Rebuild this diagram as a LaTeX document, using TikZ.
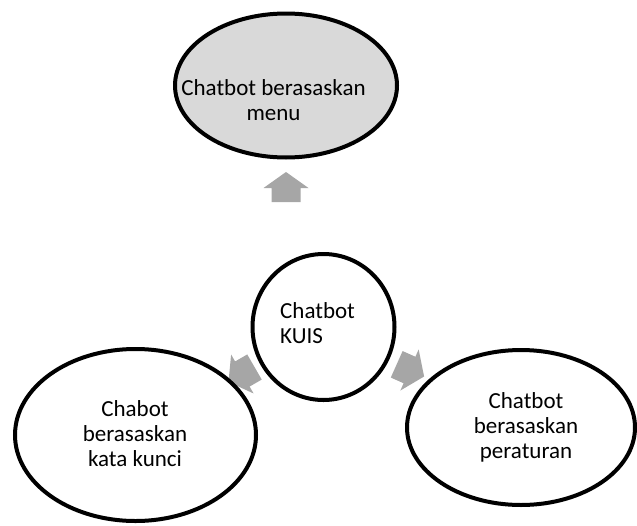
\documentclass[tikz,border=0pt]{standalone}
\usepackage{fontspec}
\setmainfont{Carlito}
\usetikzlibrary{shapes.geometric}
\definecolor{menugray}{HTML}{D9D9D9}
\definecolor{arrowgray}{HTML}{A6A6A6}

\begin{document}
\begin{tikzpicture}[
  x=1pt, y=-1pt,
  bubble/.style={draw, ellipse, line width=4pt, fill=white, inner sep=0pt},
  caption/.style={inner sep=0pt, align=center, font=\fontsize{23}{25}\selectfont},
  blockarr/.pic={\fill[arrowgray] (-15,-14.5) -- (-1,-14.5) -- (-1,-22.5) -- (15,0) -- (-1,22.5) -- (-1,14.5) -- (-15,14.5) -- cycle;}
]
  \useasboundingbox (0,0) rectangle (637,525);
  % arrows sit behind the bubbles
  \pic[rotate=90] (uparr) at (286,187) {blockarr};
  \pic[rotate=210] (leftarr) at (241.5,374.5) {blockarr};
  \pic[rotate=-24] (rightarr) at (410.4,370.4) {blockarr};

  \node[bubble, fill=menugray, minimum width=222pt, minimum height=144pt] (menu) at (286,85.5) {};
  \node[bubble, minimum width=142pt, minimum height=146pt] (kuis) at (323.5,327) {};
  \node[bubble, minimum width=241pt, minimum height=172pt] (kata) at (135.5,435) {};
  \node[bubble, minimum width=228pt, minimum height=155pt] (aturan) at (521,427.5) {};

  \node[caption] (menutxt) at ([shift={(-12.5,15)}]menu.center) {Chatbot berasaskan\\menu};
  \node[caption, align=left, anchor=west] (kuistxt) at ([shift={(-43.5,-4)}]kuis.center) {Chatbot\\KUIS};
  \node[caption] (katatxt) at ([shift={(-0.5,-1)}]kata.center) {Chabot\\berasaskan\\kata kunci};
  \node[caption] (aturantxt) at ([shift={(5,0)}]aturan.center) {Chatbot\\berasaskan\\peraturan};
\end{tikzpicture}
\end{document}
